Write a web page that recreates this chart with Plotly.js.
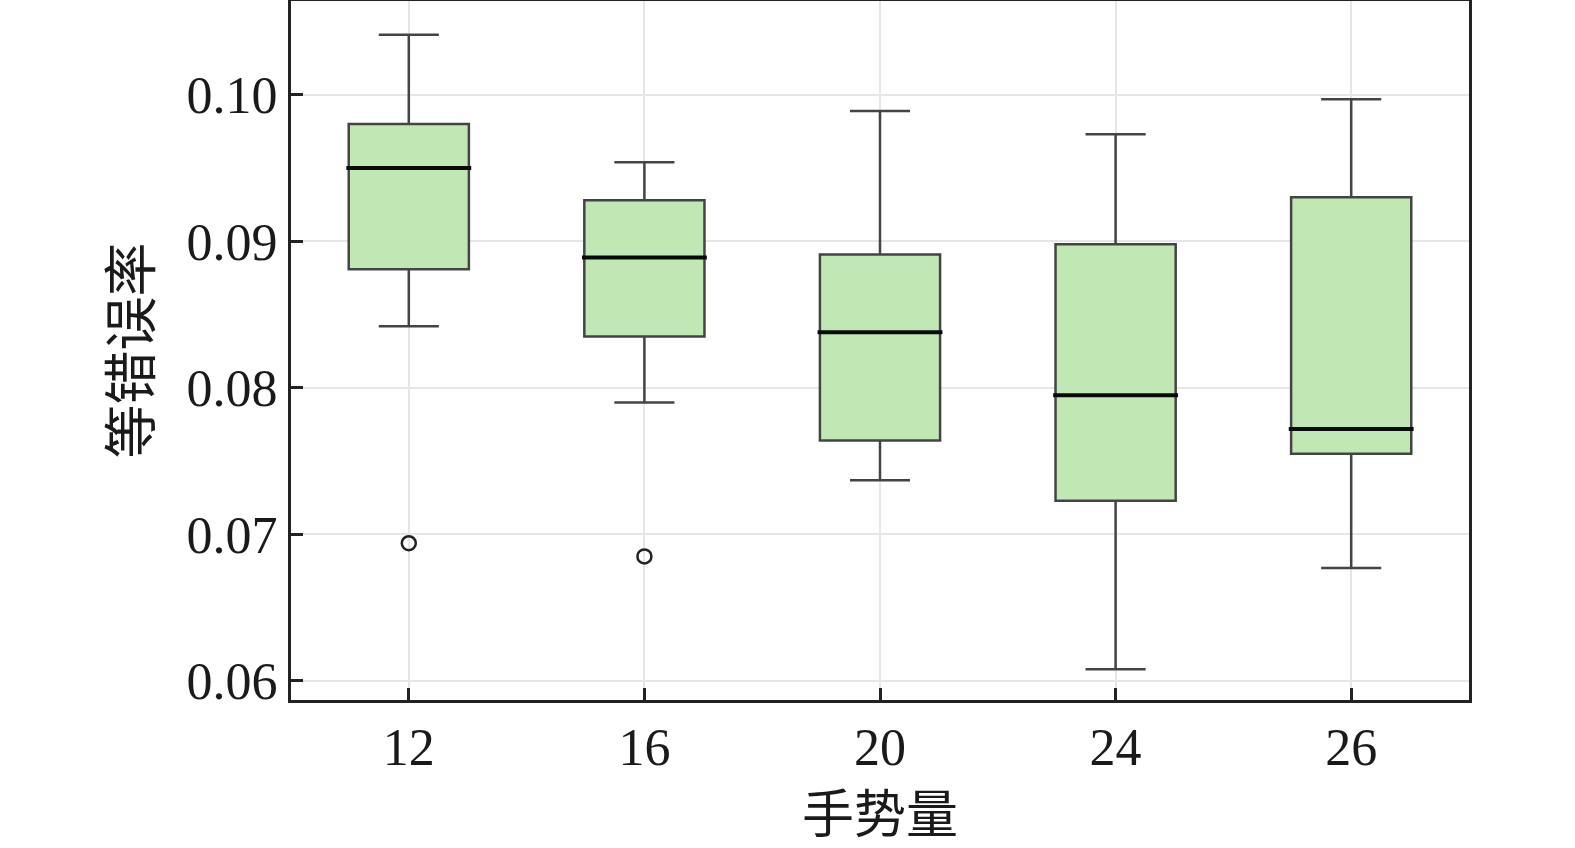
<!DOCTYPE html>
<html>
<head>
<meta charset="utf-8">
<script src="https://cdn.plot.ly/plotly-3.0.1.min.js"></script>
<style>
  html, body { margin: 0; padding: 0; background: #fff; }
  #chart { width: 1575px; height: 848px; }
</style>
</head>
<body>
<div id="chart"></div>
<script>
// gesture counts and box stats
var gestures = ['12', '16', '20', '24', '26'];
var upper = [0.1041, 0.0954, 0.0989, 0.0973, 0.0997];
var q3 = [0.0980, 0.0928, 0.0891, 0.0898, 0.0930];
var median = [0.0950, 0.0889, 0.0838, 0.0795, 0.0772];
var q1 = [0.0881, 0.0835, 0.0764, 0.0723, 0.0755];
var lower = [0.0842, 0.0790, 0.0737, 0.0608, 0.0677];
var outlierX = ['12', '16'];
var outlierY = [0.0694, 0.0685];

var serif = '"Liberation Serif", "Times New Roman", serif';
var cjk = '"Noto Sans CJK SC", sans-serif';
var boxWidth = 0.51;

var boxes = {
    type: 'box',
    x: gestures,
    q1: q1,
    median: median,
    q3: q3,
    lowerfence: lower,
    upperfence: upper,
    width: boxWidth,
    whiskerwidth: 0.5,
    fillcolor: 'rgb(193, 232, 180)',
    line: { color: '#444', width: 2.5 },
    boxpoints: false,
    hoverinfo: 'skip',
    showlegend: false
};

var outliers = {
    type: 'scatter',
    mode: 'markers',
    x: outlierX,
    y: outlierY,
    marker: {
        symbol: 'circle-open',
        size: 14,
        color: '#222',
        line: { width: 2.5, color: '#222' }
    },
    hoverinfo: 'skip',
    showlegend: false
};

// thick black median bars on top of each box
var shapes = median.map(function (m, i) {
    return {
        type: 'line',
        xref: 'x', yref: 'y',
        x0: i - boxWidth / 2 - 0.01, x1: i + boxWidth / 2 + 0.01,
        y0: m, y1: m,
        line: { color: '#0a0a0a', width: 4 }
    };
});

var layout = {
    width: 1575,
    height: 848,
    margin: { l: 291, r: 106, t: 1, b: 148 },
    paper_bgcolor: '#ffffff',
    plot_bgcolor: '#ffffff',
    shapes: shapes,
    xaxis: {
        type: 'category',
        range: [-0.5, 4.5],
        showline: true,
        mirror: true,
        linecolor: '#222',
        linewidth: 3,
        showgrid: true,
        gridcolor: '#e6e6e6',
        gridwidth: 2,
        ticks: 'inside',
        ticklen: 12,
        tickwidth: 3,
        tickcolor: '#222',
        tickfont: { family: serif, size: 52, color: '#1a1a1a' },
        title: { text: '手势量', font: { family: cjk, size: 52, color: '#1a1a1a' }, standoff: 26 },
        zeroline: false
    },
    yaxis: {
        range: [0.0587, 0.1064],
        tickvals: [0.06, 0.07, 0.08, 0.09, 0.10],
        ticktext: ['0.06', '0.07', '0.08', '0.09', '0.10'],
        showline: true,
        mirror: true,
        linecolor: '#222',
        linewidth: 3,
        showgrid: true,
        gridcolor: '#e6e6e6',
        gridwidth: 2,
        ticks: 'inside',
        ticklen: 12,
        tickwidth: 3,
        tickcolor: '#222',
        tickfont: { family: serif, size: 52, color: '#1a1a1a' },
        title: { text: '等错误率', font: { family: cjk, size: 54, color: '#1a1a1a' }, standoff: 18 },
        zeroline: false
    }
};

Plotly.newPlot('chart', [boxes, outliers], layout, { staticPlot: true });
</script>
</body>
</html>
